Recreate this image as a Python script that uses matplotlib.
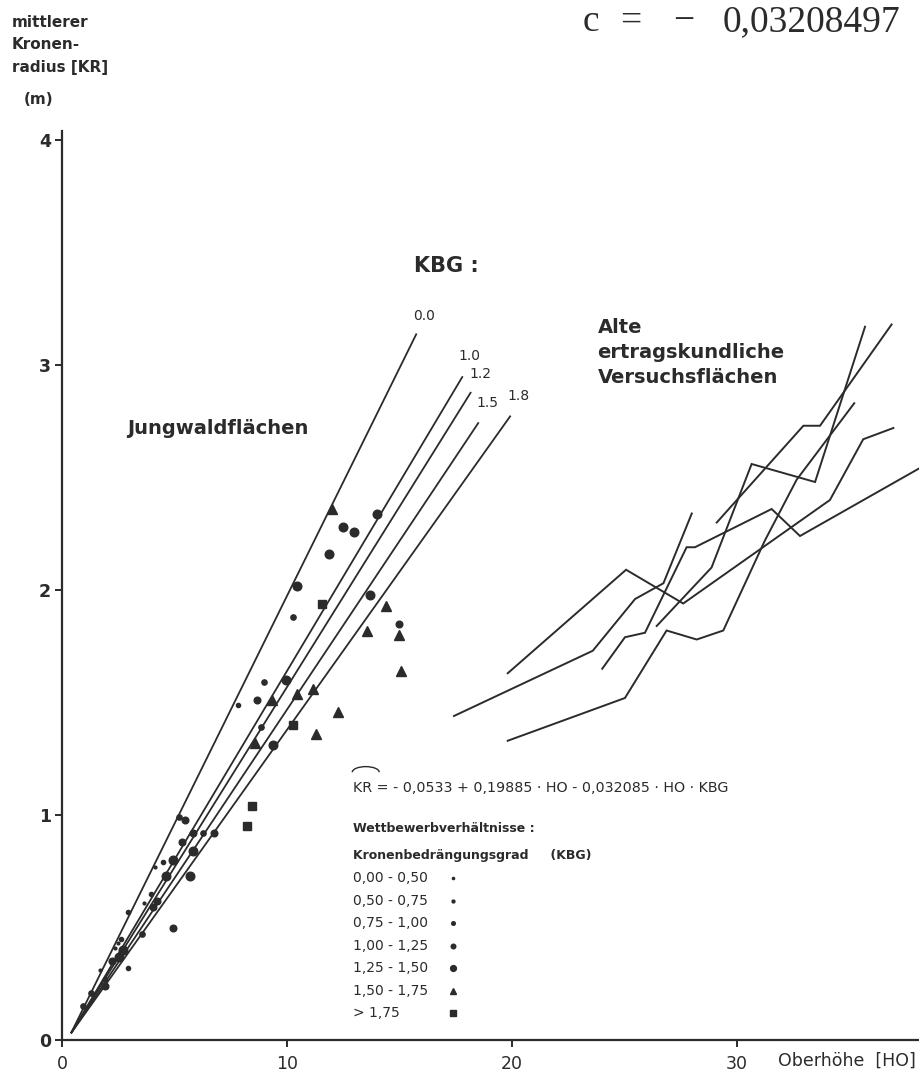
import numpy as np
import matplotlib.pyplot as plt
from matplotlib.patches import Arc

W, H = 919, 1074
INK = '#2b2b2b'

# Regressionsgeraden (KBG-Stufen): Anfangs- und Endpunkte
kbg_labels = ['0.0', '1.0', '1.2', '1.5', '1.8']
kbg_ho_start = [0.4, 0.4, 0.4, 0.4, 0.4]
kbg_kr_start = [0.03, 0.03, 0.03, 0.03, 0.03]
kbg_ho_end = [15.76, 17.81, 18.18, 18.52, 19.94]
kbg_kr_end = [3.14, 2.95, 2.88, 2.745, 2.775]
kbg_label_pos = [(16.1, 3.22), (18.1, 3.04), (18.6, 2.96), (18.9, 2.83), (20.3, 2.86)]

# Alte ertragskundliche Versuchsflaechen
old_ho = [
    [17.42, 23.59, 25.47, 26.73, 27.99],
    [19.81, 25.07, 27.61, 34.13, 35.61, 36.95],
    [19.81, 25.02, 26.87, 28.21, 29.39, 31.24, 32.65, 35.21],
    [24.01, 25.02, 25.91, 27.76, 28.13, 31.54, 32.80, 38.09],
    [26.43, 28.87, 30.65, 33.47, 35.69],
    [29.10, 32.95, 33.69, 36.87],
]
old_kr = [
    [1.44, 1.73, 1.96, 2.03, 2.34],
    [1.63, 2.09, 1.94, 2.40, 2.67, 2.72],
    [1.33, 1.52, 1.82, 1.78, 1.82, 2.22, 2.49, 2.83],
    [1.65, 1.79, 1.81, 2.19, 2.19, 2.36, 2.24, 2.54],
    [1.84, 2.10, 2.56, 2.48, 3.17],
    [2.30, 2.73, 2.73, 3.18],
]

# Jungwaldflaechen nach Kronenbedraengungsgrad
ho_000_050 = [4.13, 3.64, 2.50, 2.36, 1.69]
kr_000_050 = [0.77, 0.61, 0.43, 0.41, 0.31]
ho_050_075 = [7.84, 4.47, 3.94, 2.95, 2.61, 2.95, 1.91]
kr_050_075 = [1.49, 0.79, 0.65, 0.57, 0.45, 0.32, 0.27]
ho_075_100 = [10.28, 8.83, 8.99, 5.20, 6.28, 3.54, 0.95, 1.30]
kr_075_100 = [1.88, 1.39, 1.59, 0.99, 0.92, 0.47, 0.15, 0.21]
ho_100_125 = [14.98, 8.65, 5.45, 5.81, 6.76, 5.32, 4.21, 4.06, 4.92, 1.91, 2.20]
kr_100_125 = [1.85, 1.51, 0.98, 0.92, 0.92, 0.88, 0.62, 0.59, 0.50, 0.24, 0.35]
ho_125_150 = [13.99, 12.47, 12.96, 11.88, 10.46, 13.69, 9.39, 9.96,
              5.81, 4.95, 4.62, 5.69, 2.73, 2.55]
kr_125_150 = [2.34, 2.28, 2.26, 2.16, 2.02, 1.98, 1.31, 1.60,
              0.84, 0.80, 0.73, 0.73, 0.40, 0.37]
ho_150_175 = [11.99, 14.40, 13.57, 14.99, 15.07, 12.25, 11.29, 8.58, 9.32, 10.43, 11.17]
kr_150_175 = [2.36, 1.93, 1.82, 1.80, 1.64, 1.46, 1.36, 1.32, 1.51, 1.54, 1.56]
ho_gt175 = [11.54, 10.25, 8.46, 8.21]
kr_gt175 = [1.94, 1.40, 1.04, 0.95]

legend_labels = ['0,00 - 0,50', '0,50 - 0,75', '0,75 - 1,00', '1,00 - 1,25',
                 '1,25 - 1,50', '1,50 - 1,75', '> 1,75']

groups = [
    (ho_000_050, kr_000_050, 'o', 2.0, 1.6),
    (ho_050_075, kr_050_075, 'o', 3.0, 2.1),
    (ho_075_100, kr_075_100, 'o', 3.8, 2.6),
    (ho_100_125, kr_100_125, 'o', 4.8, 3.3),
    (ho_125_150, kr_125_150, 'o', 6.2, 4.2),
    (ho_150_175, kr_150_175, '^', 6.6, 4.8),
    (ho_gt175, kr_gt175, 's', 5.8, 4.4),
]

plt.rcParams['font.family'] = ['DejaVu Sans']
fig = plt.figure(figsize=(W / 100, H / 100), dpi=100)
ax = fig.add_axes([62 / W, 34 / H, 857 / W, 909 / H])
ax.set_xlim(0, 857 / 22.5)
ax.set_ylim(0, 909 / 225)

for s in ['top', 'right']:
    ax.spines[s].set_visible(False)
for s in ['left', 'bottom']:
    ax.spines[s].set_linewidth(1.6)
    ax.spines[s].set_color(INK)

ax.set_xticks([0, 10, 20, 30])
ax.set_yticks([0, 1, 2, 3, 4])
ax.tick_params(axis='both', colors=INK, width=1.4, length=5, labelsize=12.5)
ax.tick_params(axis='y', pad=3)
ax.tick_params(axis='x', pad=6)
for lab in ax.get_yticklabels():
    lab.set_fontweight('bold')

# Regressionsgeraden
for i in range(len(kbg_labels)):
    ax.plot([kbg_ho_start[i], kbg_ho_end[i]], [kbg_kr_start[i], kbg_kr_end[i]],
            color=INK, lw=1.3, solid_capstyle='butt')
    ax.text(kbg_label_pos[i][0], kbg_label_pos[i][1], kbg_labels[i], fontsize=10,
            color=INK, ha='center', va='center')

# Versuchsflaechen
for xs, ys in zip(old_ho, old_kr):
    ax.plot(xs, ys, color=INK, lw=1.4, solid_joinstyle='miter')

# Punkte
for xs, ys, m, ms, _ in groups:
    ax.plot(xs, ys, ls='none', marker=m, ms=ms, color=INK, mec=INK)

# Texte im Diagramm
ax.text(17.1, 3.44, 'KBG :', fontsize=15, fontweight='bold', color=INK,
        ha='center', va='center')
ax.text(6.93, 2.72, 'Jungwaldflächen', fontsize=14, fontweight='bold', color=INK,
        ha='center', va='center')
ax.text(23.8, 3.21, 'Alte\nertragskundliche\nVersuchsflächen', fontsize=14,
        fontweight='bold', color=INK, ha='left', va='top', linespacing=1.4)

# Gleichung und Legende
ax.text(12.92, 1.12, 'KR = - 0,0533 + 0,19885 · HO - 0,032085 · HO · KBG',
        fontsize=10.3, color=INK, ha='left', va='center')
ax.add_patch(Arc((13.5, 1.19), 1.2, 0.05, theta1=0, theta2=180, color=INK, lw=1.0))
ax.text(12.92, 0.94, 'Wettbewerbverhältnisse :', fontsize=9, fontweight='bold',
        color=INK, ha='left', va='center')
ax.text(12.92, 0.82, 'Kronenbedrängungsgrad     (KBG)', fontsize=9, fontweight='bold',
        color=INK, ha='left', va='center')
leg_y = [0.72, 0.619, 0.519, 0.419, 0.319, 0.219, 0.12]
for i, lab in enumerate(legend_labels):
    ax.text(12.92, leg_y[i], lab, fontsize=10, color=INK, ha='left', va='center')
    ax.plot([17.36], [leg_y[i]], ls='none', marker=groups[i][2], ms=groups[i][4],
            color=INK, mec=INK)

# Achsentitel
fig.text(12 / W, 1 - 27 / H, 'mittlerer', fontsize=11, fontweight='bold', color=INK,
         va='baseline')
fig.text(12 / W, 1 - 49 / H, 'Kronen-', fontsize=11, fontweight='bold', color=INK,
         va='baseline')
fig.text(12 / W, 1 - 72 / H, 'radius [KR]', fontsize=11, fontweight='bold', color=INK,
         va='baseline')
fig.text(24 / W, 1 - 104 / H, '(m)', fontsize=11, fontweight='bold', color=INK,
         va='baseline')
fig.text(778 / W, 1 - 1061 / H, 'Oberhöhe  [HO]', fontsize=12.5, color=INK, va='center')

# Zeile der Buchseite oben rechts
fig.text(583 / W, 1 - 31 / H, 'c', fontsize=27, family='Liberation Serif', color=INK,
         va='baseline')
fig.text(631 / W, 1 - 31 / H, '=', fontsize=27, family='Liberation Serif', color=INK,
         va='baseline', ha='center')
fig.text(684 / W, 1 - 31 / H, '−', fontsize=27, family='Liberation Serif', color=INK,
         va='baseline', ha='center')
fig.text(723 / W, 1 - 31 / H, '0,03208497', fontsize=27, family='Liberation Serif',
         color=INK, va='baseline')

fig.savefig('out.png', dpi=100)
